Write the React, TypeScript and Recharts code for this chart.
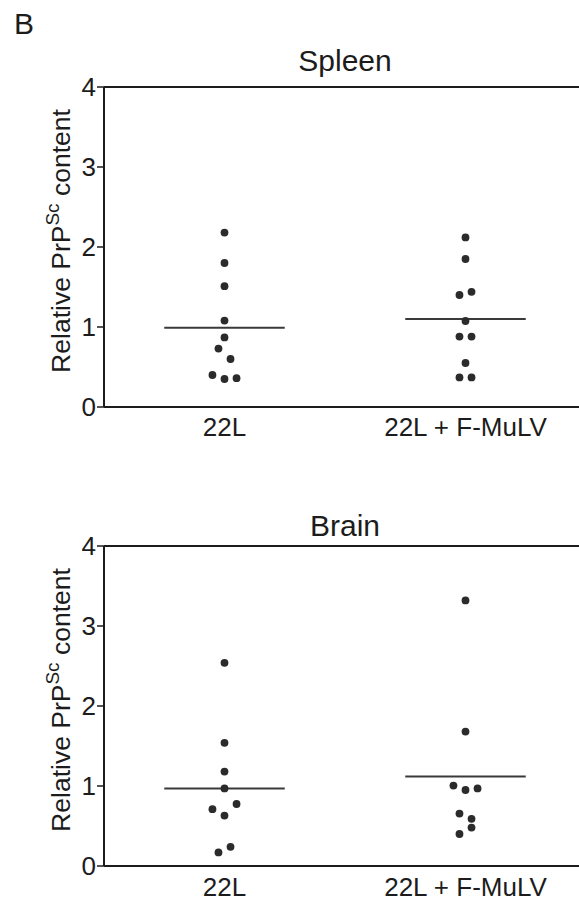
import { ScatterChart, Scatter, XAxis, YAxis, ReferenceLine } from 'recharts';

// x-axis groups
const categories = ['22L', '22L + F-MuLV'];
const yTicks = [0, 1, 2, 3, 4];

// Spleen – relative PrPSc content per animal
const spleen22L = [2.18, 1.8, 1.51, 1.08, 0.87, 0.73, 0.6, 0.4, 0.35, 0.36];
const spleen22LJitter = [0, 0, 0, 0, 0, -1, 1, -2, 0, 2];
const spleenFMuLV = [2.12, 1.85, 1.4, 1.44, 1.075, 0.88, 0.88, 0.55, 0.37, 0.37];
const spleenFMuLVJitter = [0, 0, -1, 1, 0, -1, 1, 0, -1, 1];
const spleenMeans = [0.99, 1.1];

// Brain – relative PrPSc content per animal
const brain22L = [2.54, 1.54, 1.18, 0.97, 0.71, 0.775, 0.63, 0.24, 0.17];
const brain22LJitter = [0, 0, 0, 0, -2, 2, 0, 1, -1];
const brainFMuLV = [3.32, 1.68, 1.005, 0.95, 0.97, 0.655, 0.59, 0.48, 0.4];
const brainFMuLVJitter = [0, 0, -2, 0, 2, -1, 1, 1, -1];
const brainMeans = [0.97, 1.12];

const FONT = '"Liberation Sans", Arial, sans-serif';
const INK = '#1c1c1c';
const DOT = '#2b2b2b';
const JITTER_STEP = 0.025;
const HALF_LINE = 0.25;

const toPoints = (values: number[], jitter: number[], group: number) =>
  values.map((v, i) => ({ x: group + 1 + jitter[i] * JITTER_STEP, y: v }));

const Dot = (props: any) => <circle cx={props.cx} cy={props.cy} r={3.9} fill={DOT} />;

const YLabel = (props: any) => {
  const { x, y, height } = props.viewBox;
  const cx = x + 70;
  const cy = y + height / 2 - 6;
  return (
    <text
      x={cx}
      y={cy}
      transform={`rotate(-90, ${cx}, ${cy})`}
      textAnchor="middle"
      fontSize={26.5}
      fontFamily={FONT}
      fill={INK}
    >
      Relative PrP
      <tspan dy={-11} fontSize={19}>Sc</tspan>
      <tspan dy={11}> content</tspan>
    </text>
  );
};

interface PanelProps {
  title: string;
  titleOffset: number;
  height: number;
  marginTop: number;
  labelGap: number;
  groupA: number[];
  jitterA: number[];
  groupB: number[];
  jitterB: number[];
  means: number[];
}

function Panel({ title, titleOffset, height, marginTop, labelGap, groupA, jitterA, groupB, jitterB, means }: PanelProps) {
  return (
    <ScatterChart width={586} height={height} margin={{ top: marginTop, right: 0, bottom: 0, left: 0 }}>
      <XAxis
        type="number"
        dataKey="x"
        domain={[0.5, 2.5]}
        ticks={[1, 2]}
        tickFormatter={(v: number) => categories[v - 1]}
        tickLine={false}
        tickSize={0}
        tickMargin={labelGap}
        height={height - marginTop - 320}
        axisLine={{ stroke: INK, strokeWidth: 2 }}
        tick={{ fill: INK, fontSize: 26, fontFamily: FONT }}
        allowDataOverflow
      />
      <YAxis
        type="number"
        dataKey="y"
        domain={[0, 4]}
        ticks={yTicks}
        width={104}
        tickSize={7}
        tickMargin={1}
        axisLine={{ stroke: INK, strokeWidth: 2 }}
        tickLine={{ stroke: INK, strokeWidth: 1.5 }}
        tick={{ fill: INK, fontSize: 26, fontFamily: FONT }}
        label={{ content: YLabel }}
      />
      <ReferenceLine
        y={4}
        stroke={INK}
        strokeWidth={2}
        label={{ value: title, position: 'top', offset: titleOffset, fill: INK, fontSize: 30, fontFamily: FONT }}
      />
      {means.map((m, i) => (
        <ReferenceLine
          key={i}
          segment={[
            { x: i + 1 - HALF_LINE, y: m },
            { x: i + 1 + HALF_LINE, y: m },
          ]}
          stroke="#3a3a3a"
          strokeWidth={2}
        />
      ))}
      <Scatter data={toPoints(groupA, jitterA, 0)} shape={Dot} isAnimationActive={false} />
      <Scatter data={toPoints(groupB, jitterB, 1)} shape={Dot} isAnimationActive={false} />
    </ScatterChart>
  );
}

export default function App() {
  return (
    <div
      style={{
        position: 'absolute',
        left: 0,
        top: 0,
        width: 579,
        height: 904,
        overflow: 'hidden',
        background: '#fff',
        fontFamily: FONT,
      }}
    >
      <div style={{ position: 'absolute', left: 14, top: 9, fontSize: 30, lineHeight: '30px', color: INK }}>B</div>
      <div style={{ position: 'absolute', left: 0, top: 0 }}>
        <Panel
          title="Spleen"
          titleOffset={16}
          height={460}
          marginTop={87}
          labelGap={11}
          groupA={spleen22L}
          jitterA={spleen22LJitter}
          groupB={spleenFMuLV}
          jitterB={spleenFMuLVJitter}
          means={spleenMeans}
        />
      </div>
      <div style={{ position: 'absolute', left: 0, top: 460 }}>
        <Panel
          title="Brain"
          titleOffset={10}
          height={444}
          marginTop={86}
          labelGap={12}
          groupA={brain22L}
          jitterA={brain22LJitter}
          groupB={brainFMuLV}
          jitterB={brainFMuLVJitter}
          means={brainMeans}
        />
      </div>
    </div>
  );
}
